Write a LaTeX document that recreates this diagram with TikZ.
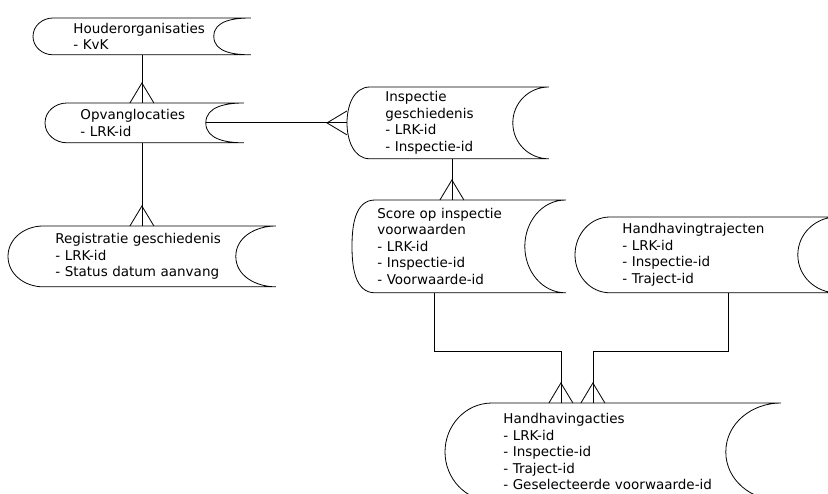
\documentclass[tikz,border=0pt]{standalone}
\usepackage{fontspec}
\setmainfont{DejaVu Sans}

\begin{document}
\begin{tikzpicture}[x=1pt, y=1pt,
	line width=0.8pt,
	every node/.style={font=\fontsize{13.5pt}{16.5pt}\selectfont},
	store/.style 2 args={rectangle, inner sep=0pt, anchor=north west, align=left,
	  append after command={
	    (\tikzlastnode.north east) -- ([xshift=#1]\tikzlastnode.north west)
	    to[out=180,in=90] (\tikzlastnode.west)
	    to[out=270,in=180] ([xshift=#1]\tikzlastnode.south west)
	    -- (\tikzlastnode.south east)
	    to[out=180,in=270] ([xshift=-#2]\tikzlastnode.east)
	    to[out=90,in=180] (\tikzlastnode.north east)}},
	crow/.pic={\draw (-12,0) -- (0,20) -- (12,0);}
	]
  \useasboundingbox (0,0) rectangle (828,-494);

  % tables
  \draw (33,-18) node[store={20}{37}, minimum width=217pt, minimum height=36pt, text width=137pt] (houder)
    {Houderorganisaties\\- KvK};
  \draw (45,-103) node[store={22}{38}, minimum width=198pt, minimum height=39pt, text width=128pt] (opvang)
    {Opvanglocaties\\- LRK-id};
  \draw (8,-226) node[store={35}{40}, minimum width=267pt, minimum height=60pt, text width=173pt] (registratie)
    {Registratie geschiedenis\\- LRK-id\\- Status datum aanvang};
  \draw (347,-87) node[store={23}{36}, minimum width=201pt, minimum height=71pt, text width=125pt] (inspectie)
    {Inspectie\\geschiedenis\\- LRK-id\\- Inspectie-id};
  \draw (352,-200) node[store={23}{41}, minimum width=213pt, minimum height=92pt, text width=163pt] (score)
    {Score op inspectie\\voorwaarden\\- LRK-id\\- Inspectie-id\\- Voorwaarde-id};
  \draw (575,-217) node[store={35}{39}, minimum width=261pt, minimum height=75pt, text width=167pt] (trajecten)
    {Handhavingtrajecten\\- LRK-id\\- Inspectie-id\\- Traject-id};
  \draw (445,-403) node[store={47}{55}, minimum width=335pt, minimum height=97pt, text width=219pt] (acties)
    {Handhavingacties\\- LRK-id\\- Inspectie-id\\- Traject-id\\- Geselecteerde voorwaarde-id};

  % relations
  \draw (houder.south) -- (houder.south |- opvang.north) pic {crow};
  \draw (registratie.north |- opvang.south) -- (registratie.north) pic {crow};
  \draw ([xshift=-38]opvang.east) -- (inspectie.west) pic[rotate=90] {crow};
  \draw ([xshift=4]inspectie.south) -- ([xshift=4]inspectie.south |- score.north) pic {crow};
  \draw ([xshift=-25]score.south) -- ++(0,-59) -| ([xshift=-52]acties.north) pic {crow};
  \draw ([xshift=22]trajecten.south) -- ++(0,-59) -| ([xshift=-20]acties.north) pic {crow};
\end{tikzpicture}
\end{document}
